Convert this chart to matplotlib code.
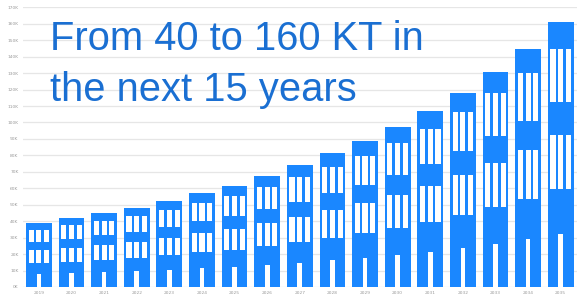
import matplotlib
matplotlib.use("Agg")
import matplotlib.pyplot as plt
import numpy as np

years = ["2019", "2020", "2021", "2022", "2023", "2024", "2025", "2026", "2027",
         "2028", "2029", "2030", "2031", "2032", "2033", "2034", "2035"]
values_k = [38.7, 41.7, 44.8, 48.0, 52.2, 56.9, 61.5, 67.4, 74.0,
            81.2, 88.8, 97.3, 107.0, 118.0, 130.7, 144.5, 161.0]
y_ticks = list(range(0, 171, 10))
y_tick_labels = [f"{t}K" for t in y_ticks]
title_lines = ["From 40 to 160 KT in", "the next 15 years"]

BLUE = "#1a87ff"
TITLE_BLUE = "#1a6fd2"

fig = plt.figure(figsize=(5.77, 3.03), dpi=100)
W, H = 577, 303
ax = fig.add_axes([22.6 / W, (H - 287) / H, (577 - 22.6) / W, (287 - 7.3) / H])

x = np.arange(len(years))
bw = 0.79
vals = np.array(values_k)
ax.bar(x, vals, width=bw, color=BLUE, zorder=2)

# windows: three columns, two rows; door at bottom
win_w = 0.2 * bw
for cfrac in (0.2, 0.5, 0.8):
    cx = x - bw / 2 + cfrac * bw
    for lo, hi in ((0.37, 0.575), (0.70, 0.90)):
        ax.bar(cx, vals * (hi - lo), bottom=vals * lo, width=win_w,
               color="white", zorder=3)
ax.bar(x, vals * 0.2, width=0.18 * bw, color="white", zorder=3)

ax.set_xlim(-0.5, len(years) - 0.5)
ax.set_ylim(0, 170)
ax.set_yticks(y_ticks)
ax.set_yticklabels(y_tick_labels)
ax.set_xticks(x)
ax.set_xticklabels(years)
ax.tick_params(axis="both", length=0, labelsize=3.2, labelcolor="#9a9a9a", pad=3)
ax.yaxis.grid(True, color="#e6e6e6", linewidth=0.9, zorder=0)
ax.set_axisbelow(True)
for s in ax.spines.values():
    s.set_visible(False)

fig.text(50.5 / W, 1 - 50.0 / H, title_lines[0], color=TITLE_BLUE,
         fontsize=28.7, family="Liberation Sans", va="baseline", ha="left", zorder=5)
fig.text(50.5 / W, 1 - 100.5 / H, title_lines[1], color=TITLE_BLUE,
         fontsize=28.7, family="Liberation Sans", va="baseline", ha="left", zorder=5)

fig.savefig("out.png", dpi=100)
